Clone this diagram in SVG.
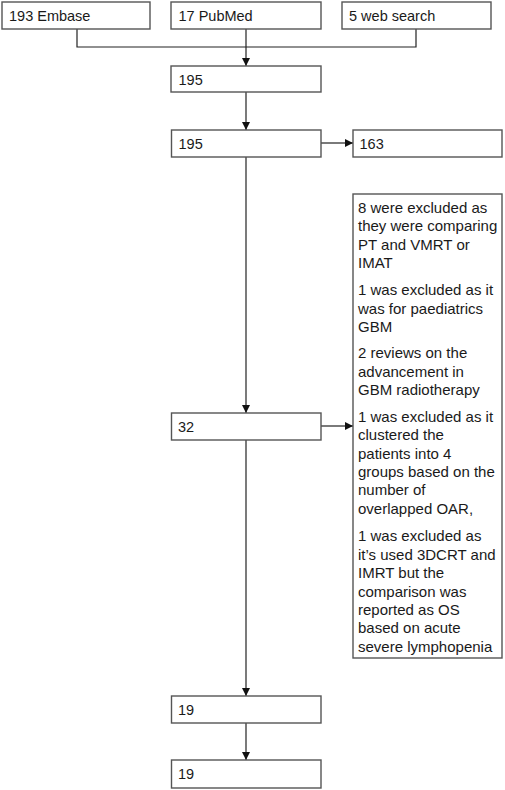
<svg xmlns="http://www.w3.org/2000/svg" width="505" height="790" viewBox="0 0 505 790">
<style>
.box{fill:#fff;stroke:#555;stroke-width:1.4}
.t{font-family:"Liberation Sans",Arial,sans-serif;font-size:14.5px;fill:#1a1a1a}
.tb{font-family:"Liberation Sans",Arial,sans-serif;font-size:15px;fill:#1a1a1a}
.c{fill:none;stroke:#222;stroke-width:1.2}
</style>
<defs>
<marker id="ah" viewBox="0 0 8 8" refX="8" refY="4" markerWidth="8" markerHeight="8" markerUnits="userSpaceOnUse" orient="auto">
<path d="M0 0L8 4L0 8z" fill="#111"/>
</marker>
</defs>
<rect width="505" height="790" fill="#fff"/>
<g id="connectors">
<path class="c" d="M77 29V47H416V29"/>
<path class="c" d="M246 29V66" marker-end="url(#ah)"/>
<path class="c" d="M246 92V130" marker-end="url(#ah)"/>
<path class="c" d="M321 143H353" marker-end="url(#ah)"/>
<path class="c" d="M246 157V413" marker-end="url(#ah)"/>
<path class="c" d="M321 426H353" marker-end="url(#ah)"/>
<path class="c" d="M246 440V696" marker-end="url(#ah)"/>
<path class="c" d="M246 723V760" marker-end="url(#ah)"/>
</g>
<g id="embase"><rect class="box" x="2" y="2" width="148" height="27"/><text class="t" x="9" y="20.5">193 Embase</text></g>
<g id="pubmed"><rect class="box" x="171" y="2" width="150" height="27"/><text class="t" x="178.5" y="20.5">17 PubMed</text></g>
<g id="websearch"><rect class="box" x="342" y="2" width="149" height="27"/><text class="t" x="349" y="20.5">5 web search</text></g>
<g id="n195a"><rect class="box" x="171" y="66" width="150" height="26"/><text class="t" x="178.5" y="84.5">195</text></g>
<g id="n195b"><rect class="box" x="171.5" y="130" width="149.5" height="27"/><text class="t" x="178.5" y="148.5">195</text></g>
<g id="n163"><rect class="box" x="353" y="130" width="149" height="27"/><text class="t" x="359.5" y="148.5">163</text></g>
<g id="excluded"><rect class="box" x="353" y="194" width="149" height="464"/>
<text class="tb">
<tspan x="358" y="213">8 were excluded as</tspan>
<tspan x="358" y="231.4">they were comparing</tspan>
<tspan x="358" y="249.8">PT and VMRT or</tspan>
<tspan x="358" y="268.2">IMAT</tspan>
<tspan x="358" y="295.1">1 was excluded as it</tspan>
<tspan x="358" y="313.5">was for paediatrics</tspan>
<tspan x="358" y="331.9">GBM</tspan>
<tspan x="358" y="358.3">2 reviews on the</tspan>
<tspan x="358" y="376.7">advancement in</tspan>
<tspan x="358" y="395.1">GBM radiotherapy</tspan>
<tspan x="358" y="421.8">1 was excluded as it</tspan>
<tspan x="358" y="440.2">clustered the</tspan>
<tspan x="358" y="458.6">patients into 4</tspan>
<tspan x="358" y="477">groups based on the</tspan>
<tspan x="358" y="495.4">number of</tspan>
<tspan x="358" y="513.8">overlapped OAR,</tspan>
<tspan x="358" y="541.4">1 was excluded as</tspan>
<tspan x="358" y="559.8">it’s used 3DCRT and</tspan>
<tspan x="358" y="578.2">IMRT but the</tspan>
<tspan x="358" y="596.6">comparison was</tspan>
<tspan x="358" y="615">reported as OS</tspan>
<tspan x="358" y="633.4">based on acute</tspan>
<tspan x="358" y="651.8">severe lymphopenia</tspan>
</text></g>
<g id="n32"><rect class="box" x="171.5" y="413" width="149.5" height="27"/><text class="t" x="178" y="431.5">32</text></g>
<g id="n19a"><rect class="box" x="171.5" y="696" width="149.5" height="27"/><text class="t" x="178" y="714.5">19</text></g>
<g id="n19b"><rect class="box" x="171.5" y="760" width="149.5" height="28"/><text class="t" x="178" y="778.5">19</text></g>
</svg>
